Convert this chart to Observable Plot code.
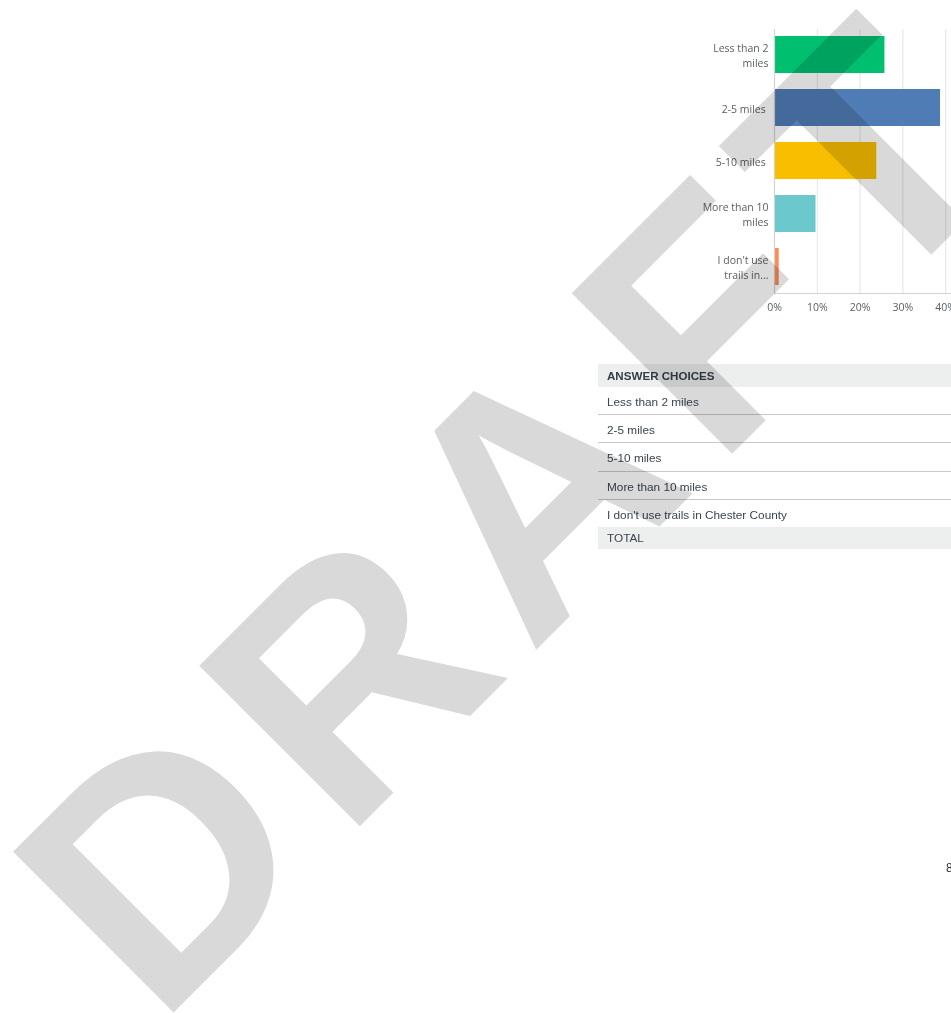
<!DOCTYPE html>
<html>
<head>
<meta charset="utf-8">
<script src="https://cdn.jsdelivr.net/npm/d3@7"></script>
<script src="https://cdn.jsdelivr.net/npm/@observablehq/plot@0.6"></script>
<style>
  html, body { margin: 0; padding: 0; background: #fff; }
  #page { position: relative; width: 951px; height: 1013px; overflow: hidden; background: #fff; }
  #chart { position: absolute; left: 690px; top: 0px; width: 530px; }
  #chart svg { max-width: none !important; }
  #table { position: absolute; left: 598px; top: 364px; width: 420px; font-family: "Liberation Sans", Arial, sans-serif; font-size: 11.8px; color: #3b4550; }
  #table .hdr { background: #edeeee; height: 23px; line-height: 24px; padding-left: 9px; font-weight: bold; color: #333e48; font-size: 11.6px; }
  #table .row { height: 27px; line-height: 30px; padding-left: 9px; border-bottom: 1px solid #c9c9c9; }
  #table .row.r3 { height: 28px; }
  #table .row.last { border-bottom: none; height: 27px; }
  #table .total { background: #edeeee; height: 22px; line-height: 22px; padding-left: 9px; }
  #pageno { position: absolute; left: 946px; top: 861px; font-family: "Liberation Sans", Arial, sans-serif; font-size: 12px; color: #333; }
  #wm { position: absolute; left: 0; top: 0; mix-blend-mode: multiply; pointer-events: none; }
</style>
</head>
<body>
<div id="page">
  <div id="chart"></div>
  <div id="table"></div>
  <div id="pageno">8</div>
</div>
<script>
// ---- data ----
const categories = ["Less than 2 miles", "2-5 miles", "5-10 miles", "More than 10 miles", "I don't use trails in Chester County"];
const axisLabels = ["Less than 2\nmiles", "2-5 miles ", "5-10 miles ", "More than 10\nmiles", "I don't use\ntrails in..."];
const shares = [0.258, 0.388, 0.239, 0.097, 0.011];
const barColors = ["#00bf6f", "#507cb6", "#f9be00", "#6bc8cd", "#ff8b4f"];
const xTicks = [0, 0.1, 0.2, 0.3, 0.4, 0.5, 0.6, 0.7, 0.8, 0.9, 1.0];
const tableHeader = "ANSWER CHOICES";
const totalLabel = "TOTAL";
const watermark = "DRAFT";
const pageNumber = "8";

const rows = categories.map((c, i) => ({category: c, share: shares[i]}));

function bottomLine(index, scales, values, dims) {
  const y = dims.height - dims.marginBottom + 0.5;
  return d3.create("svg:line")
    .attr("x1", dims.marginLeft).attr("x2", dims.width - dims.marginRight)
    .attr("y1", y).attr("y2", y)
    .attr("stroke", "#d2d2d2").attr("stroke-width", 1.2).node();
}

const chart = Plot.plot({
  width: 530,
  height: 330,
  marginLeft: 84,
  marginRight: 18,
  marginTop: 29,
  marginBottom: 37,
  style: {fontFamily: "'Open Sans', sans-serif", fontSize: "10.5px", color: "#575e65", background: "transparent", maxWidth: "none"},
  x: {domain: [0, 1], label: null},
  y: {domain: categories, paddingInner: 0.3, paddingOuter: 0.14, label: null},
  color: {domain: categories, range: barColors},
  marks: [
    Plot.gridX(xTicks, {stroke: "#e4e4e4", strokeOpacity: 1}),
    Plot.barX(rows, {x: "share", y: "category", fill: "category", insetLeft: 1}),
    Plot.ruleX([0], {stroke: "#d2d2d2", strokeWidth: 1.2}),
    bottomLine,
    Plot.axisX({ticks: xTicks, tickFormat: d3.format(".0%"), tickSize: 0, tickPadding: 10, fill: "#575e65", label: null}),
    Plot.axisY({tickSize: 0, tickPadding: 6, lineHeight: 1.4, fill: "#575e65", label: null,
      tickFormat: d => axisLabels[categories.indexOf(d)]})
  ]
});
document.getElementById("chart").appendChild(chart);

// table
const table = document.getElementById("table");
const hdr = document.createElement("div"); hdr.className = "hdr"; hdr.textContent = tableHeader; table.appendChild(hdr);
categories.forEach((c, i) => {
  const r = document.createElement("div");
  r.className = "row" + (i === 2 ? " r3" : "") + (i === categories.length - 1 ? " last" : "");
  r.textContent = c;
  table.appendChild(r);
});
const tot = document.createElement("div"); tot.className = "total"; tot.textContent = totalLabel; table.appendChild(tot);
document.getElementById("pageno").textContent = pageNumber;

// watermark
const wm = d3.select("#page").append("svg").attr("id", "wm").attr("width", 951).attr("height", 1013);
wm.append("text")
  .attr("transform", "translate(158,1028) rotate(-45)")
  .attr("font-family", "'Liberation Sans', Arial, sans-serif")
  .attr("font-weight", "bold")
  .attr("font-size", 330)
  .attr("letter-spacing", 25)
  .attr("fill", "#d9d9d9")
  .text(watermark);
</script>
</body>
</html>
